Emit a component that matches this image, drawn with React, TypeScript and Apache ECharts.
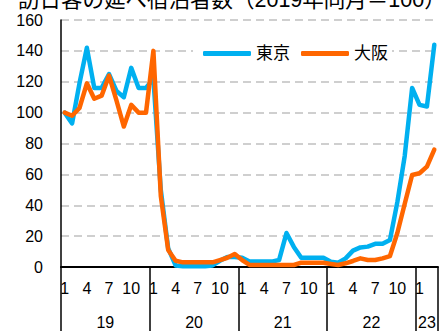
import React, { useEffect, useRef } from "react";
import * as echarts from "echarts";

const titleText = "訪日客の延べ宿泊者数（2019年同月＝100）";
const yearLabels = ["19", "20", "21", "22", "23"];
const monthsPerYear = [12, 12, 12, 12, 3];
const categories: string[] = [];
yearLabels.forEach((y, k) => {
  for (let m = 1; m <= monthsPerYear[k]; m++) categories.push(`20${y}/${m}`);
});

const tokyo = [
  100, 93, 119, 142, 116, 116, 125, 114, 110, 129, 116, 116,
  122, 50, 12, 1, 0.5, 0.5, 0.5, 0.5, 1, 4, 6.5, 6.5,
  6, 3.5, 3.5, 3.5, 3.5, 4.5, 22, 13, 6, 6, 6, 6,
  3.4, 2.8, 5.6, 10.6, 12.7, 13.2, 15, 15, 17.5, 42, 72, 116,
  105, 104, 144,
];
const osaka = [
  100, 98, 103, 119, 109, 111, 124, 108, 91, 105, 100, 100,
  140, 46, 11, 4, 3, 3, 3, 3, 3, 4.5, 6, 8.4,
  4.5, 1.3, 1.3, 1.3, 1.3, 1.3, 1.3, 1.3, 2.8, 2.8, 2.8, 2.8,
  2, 1.3, 2.4, 3.9, 5.6, 4.5, 4.5, 5.6, 7.1, 22, 41, 59.6,
  60.7, 65, 76,
];
const seriesNames = ["東京", "大阪"];
const seriesColors = ["#00B0F0", "#FF6600"];
const yTicks = [0, 20, 40, 60, 80, 100, 120, 140, 160];

// boundaries (in months) between year blocks and block centres
const yearBounds: number[] = [0];
monthsPerYear.forEach((n) => yearBounds.push(yearBounds[yearBounds.length - 1] + n));
const yearCenters = monthsPerYear.map((n, k) => yearBounds[k] + n / 2);

const FONT = '"Liberation Sans", "Noto Sans CJK JP", sans-serif';

export default function App() {
  const ref = useRef<HTMLDivElement>(null);
  useEffect(() => {
    if (!ref.current) return;
    const chart = echarts.init(ref.current, null, { renderer: "svg" });
    chart.setOption({
      animation: false,
      backgroundColor: "#fff",
      textStyle: { fontFamily: FONT },
      title: {
        text: titleText,
        left: 18,
        top: -11,
        padding: 0,
        textStyle: { fontSize: 21.5, fontWeight: "normal", color: "#000", fontFamily: FONT },
      },
      grid: { left: 61, right: 6, top: 20, bottom: 64, containLabel: false },
      legend: {
        data: seriesNames.map((n) => ({ name: n, icon: "roundRect" })),
        left: 193,
        top: 41,
        padding: [4, 4, 4, 10],
        backgroundColor: "#fff",
        itemWidth: 48,
        itemHeight: 5,
        itemGap: 11,
        textStyle: { fontSize: 17, color: "#000", fontFamily: FONT },
      },
      xAxis: [
        {
          type: "category",
          data: categories,
          boundaryGap: true,
          axisLine: { show: true, lineStyle: { color: "#000", width: 2 } },
          axisTick: { show: false },
          axisLabel: {
            interval: 2,
            margin: 13,
            fontSize: 16,
            color: "#000",
            formatter: (v: string) => v.split("/")[1],
          },
          splitLine: { show: false },
        },
        {
          type: "value",
          min: 0,
          max: yearBounds[yearBounds.length - 1],
          position: "bottom",
          axisLine: { show: false },
          axisTick: {
            show: true,
            customValues: yearBounds,
            length: 66,
            inside: false,
            lineStyle: { color: "#000", width: 1.5 },
          },
          axisLabel: {
            show: true,
            customValues: yearCenters,
            margin: 47,
            fontSize: 16,
            color: "#000",
            formatter: (v: number) => {
              const k = yearCenters.findIndex((c) => Math.abs(c - v) < 0.01);
              return k >= 0 ? yearLabels[k] : "";
            },
          },
          splitLine: { show: false },
        },
      ],
      yAxis: {
        type: "value",
        min: yTicks[0],
        max: yTicks[yTicks.length - 1],
        interval: 20,
        axisLine: { show: true, lineStyle: { color: "#000", width: 1.5 } },
        axisTick: { show: false },
        axisLabel: { margin: 18, fontSize: 16, color: "#000" },
        splitLine: { show: true, lineStyle: { color: "#c0c0c0", width: 1.5, type: [8, 5] } },
      },
      series: [
        {
          name: seriesNames[0],
          type: "line",
          data: tokyo,
          symbol: "none",
          lineStyle: { color: seriesColors[0], width: 4.5, cap: "round", join: "round" },
          itemStyle: { color: seriesColors[0] },
          z: 2,
        },
        {
          name: seriesNames[1],
          type: "line",
          data: osaka,
          symbol: "none",
          lineStyle: { color: seriesColors[1], width: 4.5, cap: "round", join: "round" },
          itemStyle: { color: seriesColors[1] },
          z: 3,
        },
      ],
    });
    return () => chart.dispose();
  }, []);
  return <div ref={ref} style={{ width: 444, height: 331, position: "absolute", left: 0, top: 0 }} />;
}
